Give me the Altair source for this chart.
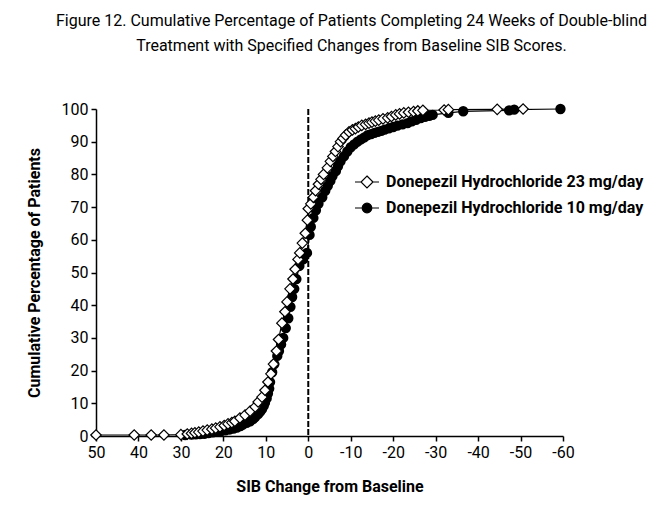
import altair as alt
import pandas as pd

FONT = "Roboto, Liberation Sans, sans-serif"

# Donepezil 23 mg/day (open diamonds): SIB change from baseline, cumulative %
d23_change = [50, 41, 37, 34, 30, 28.5, 27.5, 26.7, 25.8, 24.8, 23.8, 22.7, 21.8, 20.8,
              19.8, 18.9, 18.0, 17.3, 16.1, 14.9, 13.7, 12.5, 11.8, 10.9, 10.2, 9.5,
              8.8, 8.2, 7.5, 7.0, 6.2, 5.5, 5.0, 4.3, 3.6, 3.1, 2.4, 2.0, 1.4, 0.7, 0.2,
              0.0, -0.6, -1.2, -1.7, -2.4, -3.0, -3.6, -4.5, -5.2, -5.8, -6.4, -7.0,
              -7.6, -8.2, -8.8, -9.6, -10.4, -11.1, -11.8, -12.6, -13.5, -14.3, -15.0,
              -15.8, -16.6, -17.6, -18.7, -19.6, -20.6, -21.5, -22.5, -23.6, -24.8,
              -25.8, -27.0, -32.0, -33.0, -44.5, -50.6]
d23_pct = [0.3, 0.3, 0.3, 0.3, 0.4, 0.6, 0.8, 1.0, 1.2, 1.5, 1.8, 2.1, 2.4, 2.8,
           3.2, 3.7, 4.1, 4.5, 5.5, 6.4, 7.6, 8.9, 10.4, 11.9, 14.0, 16.5,
           19.0, 22.0, 26.0, 29.5, 34.5, 38.0, 41.0, 45.0, 48.0, 51.0, 54.0, 56.0, 59.0, 62.0, 66.0,
           69.5, 71.0, 73.0, 75.0, 77.0, 78.5, 80.0, 82.0, 84.0, 85.5, 87.0, 88.5,
           90.0, 91.0, 92.0, 93.0, 93.6, 94.0, 94.5, 95.0, 95.3, 95.7, 96.0,
           96.3, 96.6, 97.0, 97.3, 97.7, 98.2, 98.5, 98.8, 99.0, 99.2,
           99.4, 99.6, 99.7, 99.8, 99.9, 100.0]

# Donepezil 10 mg/day (filled circles)
d10_change = [29.0, 27.5, 26.5, 25.5, 24.5, 23.5, 22.5, 21.5, 20.5, 19.5, 18.5, 17.6,
              16.8, 16.0, 15.4, 14.5, 13.7, 13.0, 12.5, 11.8, 11.3, 10.9, 10.5, 10.2,
              9.8, 9.5, 9.2, 9.0, 8.5, 8.0, 7.3, 6.9, 6.4, 5.9, 5.3, 4.7, 4.2, 3.8,
              3.3, 2.8, 2.1, 1.2, 0.3, -0.3, -0.6, -1.2, -1.8, -2.4, -3.3, -4.0, -4.6,
              -5.2, -5.7, -6.5, -7.0, -7.6, -8.4, -9.2, -10.0, -10.8, -11.6, -12.4,
              -13.2, -14.0, -14.8, -15.6, -16.4, -17.2, -18.0, -19.0, -20.0, -21.0,
              -22.2, -23.4, -24.4, -25.4, -26.5, -27.5, -28.5, -29.3, -33.0, -36.5,
              -47.3, -48.5, -59.4]
d10_pct = [0.3, 0.4, 0.5, 0.6, 0.7, 0.9, 1.1, 1.3, 1.5, 1.7, 2.0, 2.3,
           2.6, 3.0, 3.5, 4.0, 4.5, 5.2, 5.8, 6.7, 7.5, 8.2, 9.2, 10.2,
           11.5, 13.0, 14.5, 16.5, 19.5, 22.0, 24.5, 26.0, 28.0, 30.0, 33.0, 36.0, 39.5, 42.5,
           45.0, 48.0, 52.0, 54.0, 56.0, 61.5, 64.0, 66.7, 69.0, 71.0, 73.0, 75.0, 76.5,
           78.0, 79.5, 81.0, 82.5, 84.0, 85.5, 87.0, 88.3, 89.2, 90.0, 90.7,
           91.3, 92.0, 92.3, 92.7, 93.0, 93.3, 93.7, 94.1, 94.5, 94.9,
           95.3, 95.7, 96.2, 96.7, 97.2, 97.6, 97.9, 98.2, 98.8, 99.3,
           99.6, 99.8, 100.0]

series_names = ["Donepezil Hydrochloride 23 mg/day", "Donepezil Hydrochloride 10 mg/day"]
x_ticks = [50, 40, 30, 20, 10, 0, -10, -20, -30, -40, -50, -60]
y_ticks = [0, 10, 20, 30, 40, 50, 60, 70, 80, 90, 100]
ref_x = [0]

df = pd.concat([
    pd.DataFrame({"change": d23_change, "pct": d23_pct, "series": series_names[0]}),
    pd.DataFrame({"change": d10_change, "pct": d10_pct, "series": series_names[1]}),
])
ref_df = pd.DataFrame({"change": ref_x})

xscale = alt.Scale(domain=[50, -60], nice=False, zero=False)
yscale = alt.Scale(domain=[0, 100], nice=False)

xaxis = alt.Axis(values=x_ticks, title="SIB Change from Baseline",
                 labelExpr="datum.value < 0 ? '-' + abs(datum.value) : '' + datum.value",
                 labelFlush=False, labelOverlap=False, titlePadding=18)
yaxis = alt.Axis(values=y_ticks, title="Cumulative Percentage of Patients", titlePadding=19)

X = alt.X("change:Q", scale=xscale, axis=xaxis)
Y = alt.Y("pct:Q", scale=yscale, axis=yaxis)

base = alt.Chart(df)

lines = base.mark_line(color="black", strokeWidth=1.2).encode(
    x=X, y=Y, detail="series:N", order="change:Q")

circles = base.transform_filter(alt.datum.series == series_names[1]).mark_point(
    shape="circle", filled=True, fill="black", stroke="black", size=70, opacity=1
).encode(x=X, y=Y)

diamonds = base.transform_filter(alt.datum.series == series_names[0]).mark_point(
    shape="diamond", filled=True, fill="white", stroke="black", strokeWidth=1.2, size=110, opacity=1
).encode(x=X, y=Y)

ref = alt.Chart(ref_df).mark_rule(color="black", strokeWidth=2, strokeDash=[6, 2]).encode(x=X)

diamond_path = "M-2,0L-1,0M1,0L2,0M0,-1L1,0L0,1L-1,0Z"
circle_path = "M-2,0L-0.8,0M0.8,0L2,0M-0.8,0A0.8,0.8 0 1,0 0.8,0A0.8,0.8 0 1,0 -0.8,0Z"

leg = alt.Legend(title=None, orient="none", legendX=263, legendY=65,
                 symbolSize=144, symbolStrokeWidth=1.2,
                 labelFont=FONT, labelFontSize=16, labelFontWeight="bold", labelLimit=0,
                 labelColor="black", labelOffset=11, rowPadding=9)

legend_layer = base.transform_filter("false").mark_point(filled=False, opacity=1, strokeWidth=1.2).encode(
    x=X, y=Y,
    shape=alt.Shape("series:N", scale=alt.Scale(domain=series_names, range=[diamond_path, circle_path]),
                    legend=leg),
    fill=alt.Fill("series:N", scale=alt.Scale(domain=series_names, range=["white", "black"]), legend=leg),
    stroke=alt.Stroke("series:N", scale=alt.Scale(domain=series_names, range=["black", "black"]), legend=leg),
)

chart = alt.layer(ref, lines, circles, diamonds, legend_layer).properties(
    width=467, height=327,
    autosize=alt.AutoSizeParams(type="none"),
    padding={"left": 88, "top": 101, "right": 97, "bottom": 75},
    title=alt.TitleParams(
        text=["Figure 12. Cumulative Percentage of Patients Completing 24 Weeks of Double-blind",
              "Treatment with Specified Changes from Baseline SIB Scores."],
        font=FONT, fontSize=16, fontWeight="normal", color="black", anchor="middle",
        offset=47, lineHeight=25, dx=22),
).configure_view(stroke=None).configure_axis(
    grid=False, domainColor="black", domainWidth=1.5, tickColor="black", tickWidth=1.5,
    tickSize=5, labelFont=FONT, labelFontSize=16, labelColor="black", labelPadding=3,
    titleFont=FONT, titleFontSize=16, titleFontWeight="bold", titleColor="black",
)

chart.save("out.html", embed_options={"renderer": "svg", "actions": False})
